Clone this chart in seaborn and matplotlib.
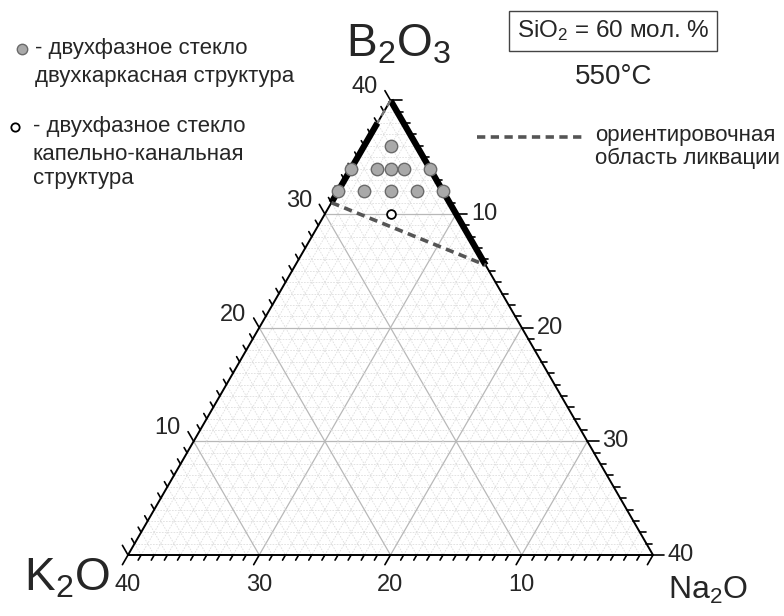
import numpy as np
import pandas as pd
import seaborn as sns
import matplotlib.pyplot as plt
from matplotlib.lines import Line2D

# составы, мол. % (B2O3 + K2O + Na2O = 40, SiO2 = 60)
frame_b2o3 = [36, 34, 34, 34, 34, 34, 32, 32, 32, 32, 32]
frame_k2o = [2, 6, 4, 3, 2, 0, 8, 6, 4, 2, 0]
frame_na2o = [2, 0, 2, 3, 4, 6, 0, 2, 4, 6, 8]

drop_b2o3 = [30]
drop_k2o = [5]
drop_na2o = [5]

# границы области ликвации (B2O3, K2O, Na2O)
bound_left = [(38, 2, 0), (31, 9, 0)]
bound_right = [(40, 0, 0), (25.5, 0, 14.5)]
bound_dash = [(31, 9, 0), (25.5, 0, 14.5)]
bound_top = [(40, 0, 0), (38, 2, 0)]

major_ticks = [10, 20, 30, 40]
TOTAL = 40

sns.set_style("white")
plt.rcParams['font.family'] = ['Liberation Sans', 'DejaVu Sans']
plt.rcParams['mathtext.fontset'] = 'custom'
plt.rcParams['mathtext.rm'] = 'Liberation Sans'
plt.rcParams['mathtext.default'] = 'regular'

S3 = np.sqrt(3) / 2


def tern(b, k, n):
    b = np.asarray(b, float)
    n = np.asarray(n, float)
    return n + b / 2, b * S3


# пиксели -> координаты осей
SC = 525 / 40.0
X0, Y0 = 128, 555


def px(x, y):
    return (x - X0) / SC, (Y0 - y) / SC


fig = plt.figure(figsize=(7.84, 6.16), dpi=100)
ax = fig.add_axes([0, 0, 1, 1])
ax.set_xlim(px(0, 0)[0], px(784, 0)[0])
ax.set_ylim(px(0, 616)[1], px(0, 0)[1])
ax.axis('off')

# сетка
for v in range(1, TOTAL):
    major = v % 10 == 0
    kw = dict(color='#b8b8b8', lw=0.9, ls='-') if major else dict(color='#dedede', lw=0.6, ls=(0, (2, 1.5)))
    for p0, p1 in [((v, TOTAL - v, 0), (v, 0, TOTAL - v)),
                   ((TOTAL - v, v, 0), (0, v, TOTAL - v)),
                   ((TOTAL - v, 0, v), (0, TOTAL - v, v))]:
        xs, ys = tern([p0[0], p1[0]], [p0[1], p1[1]], [p0[2], p1[2]])
        ax.plot(xs, ys, zorder=1, **kw)

# стороны треугольника
xs, ys = tern([0, 0, TOTAL, 0], [TOTAL, 0, 0, TOTAL], [0, TOTAL, 0, 0])
ax.plot(xs, ys, color='black', lw=1.4, zorder=3)

# засечки и подписи
for v in range(0, TOTAL + 1):
    L = 0.85 if v % 10 == 0 else 0.45
    # K2O снизу
    x, y = tern(0, v, TOTAL - v)
    ax.plot([x, x - 0.5 * L], [y, y - S3 * L], color='black', lw=1.2, zorder=3)
    # B2O3 слева
    x2, y2 = tern(v, TOTAL - v, 0)
    ax.plot([x2, x2 - 0.5 * L], [y2, y2 + S3 * L], color='black', lw=1.2, zorder=3)
    # Na2O справа
    x3, y3 = tern(TOTAL - v, 0, v)
    ax.plot([x3, x3 + L], [y3, y3], color='black', lw=1.2, zorder=3)
    if v in major_ticks:
        ax.text(x, y - 30 / SC, str(v), ha='center', va='center', fontsize=17)
        ax.text(x2 - 26 / SC, y2 + 13 / SC, str(v), ha='center', va='center', fontsize=17)
        ax.text(x3 + 15 / SC, y3, str(v), ha='left', va='center', fontsize=17)

# область ликвации
for seg in (bound_left, bound_right):
    b, k, n = zip(*seg)
    xs, ys = tern(b, k, n)
    ax.plot(xs, ys, color='black', lw=4.5, solid_capstyle='butt', zorder=4)
b, k, n = zip(*bound_top)
xs, ys = tern(b, k, n)
ax.plot(xs, ys, color='#777777', lw=1.6, ls=(0, (3, 2)), zorder=4)
b, k, n = zip(*bound_dash)
xs, ys = tern(b, k, n)
ax.plot(xs, ys, color='#555555', lw=2.6, ls=(0, (2.3, 1.5)), zorder=4)

# точки составов
fx, fy = tern(frame_b2o3, frame_k2o, frame_na2o)
dx, dy = tern(drop_b2o3, drop_k2o, drop_na2o)
df = pd.DataFrame({'x': np.concatenate([fx, dx]), 'y': np.concatenate([fy, dy]),
                   'type': ['frame'] * len(fx) + ['drop'] * len(dx)})
sns.scatterplot(data=df[df['type'] == 'frame'], x='x', y='y', s=80, color='#a9a9a9',
                edgecolor='#6a6a6a', linewidth=1.0, ax=ax, zorder=5, legend=False)
sns.scatterplot(data=df[df['type'] == 'drop'], x='x', y='y', s=40, color='white',
                edgecolor='black', linewidth=1.3, ax=ax, zorder=5, legend=False)
ax.set_xlabel('')
ax.set_ylabel('')

# подписи вершин
ax.text(*px(398, 45), r'B$_2$O$_3$', ha='center', va='center', fontsize=33)
ax.text(*px(67, 578), r'K$_2$O', ha='center', va='center', fontsize=33)
ax.text(*px(708, 590), r'Na$_2$O', ha='center', va='center', fontsize=23)

# условия
ax.text(*px(613, 31), r'SiO$_2$ = 60 мол. %', ha='center', va='center', fontsize=17.5,
        bbox=dict(boxstyle='square,pad=0.3', fc='white', ec='#444444', lw=1))
ax.text(*px(614, 77), '550°C', ha='center', va='center', fontsize=20)

# легенда
ax.add_line(Line2D([px(22, 0)[0]], [px(0, 49)[1]], marker='o', ms=7.5, mfc='#a9a9a9',
                   mec='#6a6a6a', mew=1.0, ls=''))
ax.text(*px(35, 49), '- двухфазное стекло', ha='left', va='center', fontsize=16)
ax.text(*px(35, 77), 'двухкаркасная структура', ha='left', va='center', fontsize=16)
ax.add_line(Line2D([px(15, 0)[0]], [px(0, 127)[1]], marker='o', ms=6, mfc='white',
                   mec='black', mew=1.3, ls=''))
ax.text(*px(33, 127), '- двухфазное стекло', ha='left', va='center', fontsize=16)
ax.text(*px(33, 155), 'капельно-канальная', ha='left', va='center', fontsize=16)
ax.text(*px(33, 179), 'структура', ha='left', va='center', fontsize=16)
lx0, ly = px(477, 137)
lx1, _ = px(583, 137)
ax.plot([lx0, lx1], [ly, ly], color='#555555', lw=2.6, ls=(0, (2.3, 1.5)))
ax.text(*px(595, 136), 'ориентировочная', ha='left', va='center', fontsize=16)
ax.text(*px(595, 158), 'область ликвации', ha='left', va='center', fontsize=16)

fig.savefig('out.png', dpi=100)
